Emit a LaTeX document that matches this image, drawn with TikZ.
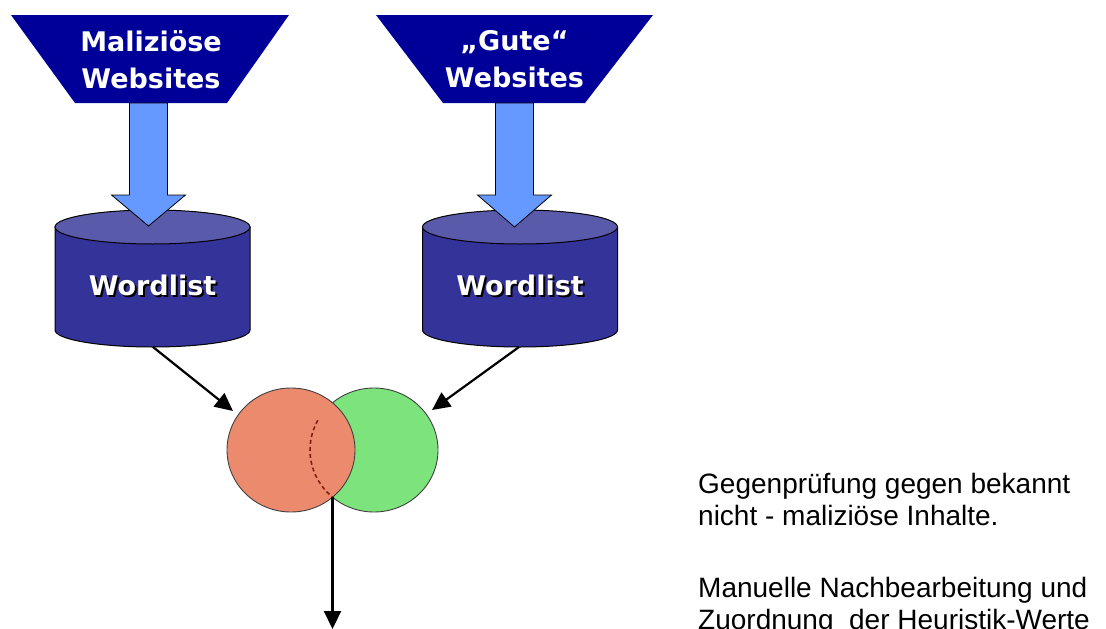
\documentclass[tikz,border=0pt]{standalone}
\usepackage{fontspec}
\setmainfont{Liberation Sans}
\newfontfamily\labelfont{DejaVu Sans}
\usetikzlibrary{arrows.meta,shapes.geometric}

\definecolor{navy}{RGB}{0,0,153}
\definecolor{drum}{RGB}{51,51,153}
\definecolor{drumtop}{RGB}{90,90,170}
\definecolor{skyarrow}{RGB}{102,153,255}
\definecolor{salmon}{RGB}{236,138,110}
\definecolor{mint}{RGB}{125,227,125}
\definecolor{rim}{RGB}{128,32,16}

\begin{document}
\begin{tikzpicture}[x=1pt,y=-1pt,
  funnel/.style={fill=navy},
  funneltext/.style={text=white, font=\labelfont\bfseries\fontsize{27}{37}\selectfont,
    align=center, inner sep=0},
  drumbody/.style={fill=drum, draw=black, line width=1pt},
  drumlid/.style={fill=drumtop, draw=black, line width=1pt},
  drumtext/.style={text=white, font=\labelfont\bfseries\fontsize{27}{32}\selectfont, inner sep=0},
  drumshadow/.style={drumtext, text=black},
  bigarrow/.style={fill=skyarrow, draw=black, line width=0.8pt, line join=miter},
  setcircle/.style={ellipse, draw=black!75, line width=0.9pt,
    minimum width=128, minimum height=124, inner sep=0},
  feed/.style={draw=black, line width=2.2pt, -{Triangle[length=18pt,width=17pt]}},
  note/.style={font=\fontsize{28}{32}\selectfont, align=left, inner sep=0}
]
\useasboundingbox (0,0) rectangle (1106,629);
\clip (0,0) rectangle (1106,629);

% source funnels
\fill[funnel] (11,15) -- (289,15) -- (227,103) -- (75,103) -- cycle;
\fill[funnel] (376,15) -- (653,15) -- (585,103) -- (443,103) -- cycle;
\node[funneltext] (srcbad) at (151,59.5) {Maliziöse\\Websites};
\node[funneltext] (srcgood) at (514.5,59.5) {„Gute“\\Websites};

% word list drums
\draw[drumbody] (55,227) -- (55,330)
  arc[start angle=180, end angle=0, x radius=97.5, y radius=17] -- (250,227) -- cycle;
\draw[drumlid] (152.5,227) ellipse[x radius=97.5, y radius=17];
\draw[drumbody] (422.5,227) -- (422.5,330)
  arc[start angle=180, end angle=0, x radius=97.5, y radius=17] -- (617.5,227) -- cycle;
\draw[drumlid] (520,227) ellipse[x radius=97.5, y radius=17];
\node[drumshadow] (wlbadsh) at (154.5,287.5) {Wordlist};
\node[drumtext] (wlbad) at (152.5,285.5) {Wordlist};
\node[drumshadow] (wlgoodsh) at (522,287.5) {Wordlist};
\node[drumtext] (wlgood) at (520,285.5) {Wordlist};

% block arrows from funnels into drums
\draw[bigarrow] (129.5,103) -- (167.5,103) -- (167.5,195) -- (185.5,195) -- (148.5,226)
  -- (111.5,195) -- (129.5,195) -- cycle;
\draw[bigarrow] (495.5,103) -- (533.5,103) -- (533.5,195) -- (551.5,195) -- (514.5,227)
  -- (477.5,195) -- (495.5,195) -- cycle;

% overlapping sets
\node[setcircle, fill=mint] (good) at (374,450) {};
\node[setcircle, fill=salmon] (bad) at (291,450) {};
\draw[rim, line width=1.6pt, dash pattern=on 4pt off 3pt]
  (good.center) ++(208.7:64 and 62) arc[start angle=208.7, end angle=130.4, x radius=64, y radius=62];

% connectors
\coordinate (lsrc) at (153,347);
\coordinate (ltip) at (233,411);
\coordinate (rsrc) at (519,347);
\coordinate (rtip) at (432,410);
\coordinate (meet) at (332.5,497);
\coordinate (sink) at (332.5,629);
\draw[feed] (lsrc) -- (ltip);
\draw[feed] (rsrc) -- (rtip);
\draw[feed] (meet) -- (sink);

% notes
\node[note, anchor=north west] (check) at (698,473)
  {Gegenprüfung gegen bekannt\\nicht - maliziöse Inhalte.};
\node[note, anchor=north west] (manual) at (698,577.5)
  {Manuelle Nachbearbeitung und\\Zuordnung~ der Heuristik-Werte};
\end{tikzpicture}
\end{document}
